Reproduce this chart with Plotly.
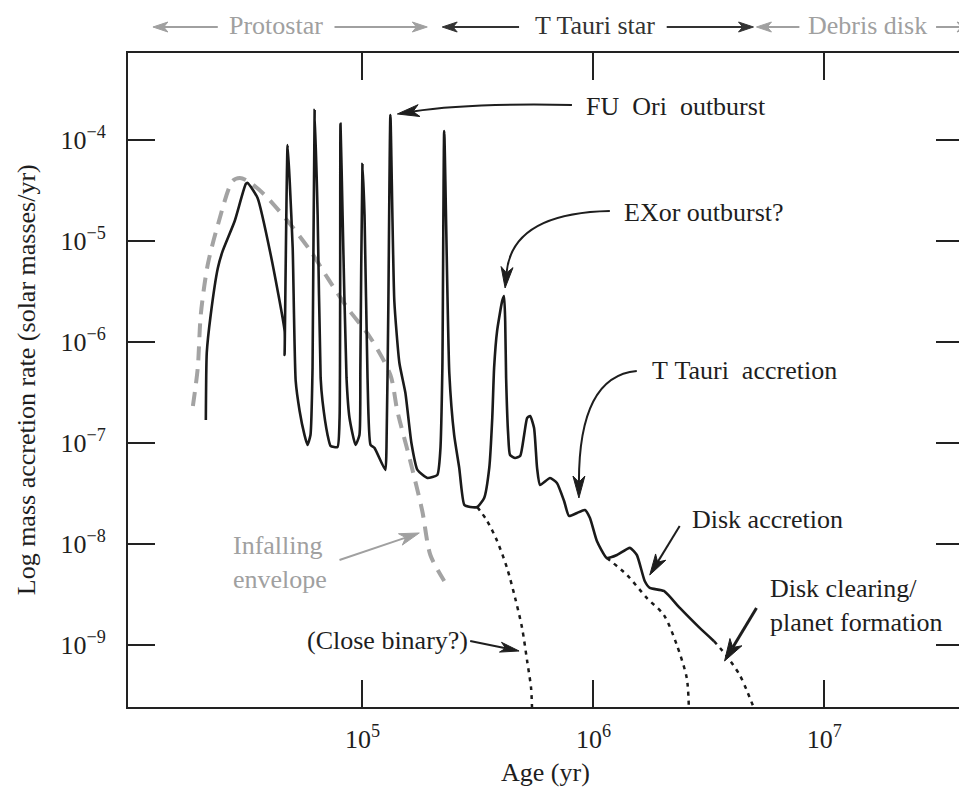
import numpy as np
import plotly.graph_objects as go

# ---------------- data (log10 values) ----------------
# main accretion history (solid black line)
main_log_age = [4.322, 4.326, 4.343, 4.374, 4.395, 4.447, 4.495, 4.503, 4.546, 4.603, 4.663, 4.663,
                4.676, 4.685, 4.698, 4.711, 4.728, 4.749, 4.762, 4.775, 4.784, 4.793, 4.806, 4.819,
                4.827, 4.849, 4.862, 4.892, 4.901, 4.905, 4.914, 4.931, 4.944, 4.970, 4.987, 4.991,
                5.000, 5.009, 5.022, 5.035, 5.052, 5.099, 5.104, 5.112, 5.121, 5.138, 5.160, 5.186,
                5.212, 5.238, 5.281, 5.324, 5.337, 5.346, 5.354, 5.376, 5.397, 5.419, 5.441, 5.467,
                5.497, 5.527, 5.549, 5.562, 5.570, 5.583, 5.605, 5.613, 5.618, 5.622, 5.631, 5.639,
                5.661, 5.683, 5.700, 5.713, 5.726, 5.743, 5.756, 5.769, 5.812, 5.842, 5.873, 5.894,
                5.929, 5.963, 5.985, 6.015, 6.058, 6.102, 6.158, 6.188, 6.222, 6.244, 6.305, 6.374,
                6.460, 6.521]
main_log_rate = [-6.773, -6.108, -5.732, -5.266, -5.097, -4.800, -4.433, -4.423, -4.572, -5.137, -5.890, -6.128,
                 -4.047, -4.403, -5.068, -6.386, -6.683, -6.921, -7.020, -6.921, -6.257, -3.700, -4.740, -6.356,
                 -6.584, -6.921, -7.030, -7.040, -6.753, -3.838, -4.740, -6.356, -6.753, -7.020, -6.921, -6.257,
                 -4.235, -4.740, -6.356, -7.020, -7.050, -7.268, -7.050, -5.662, -3.749, -5.593, -6.208, -6.505,
                 -7.001, -7.268, -7.348, -7.318, -7.080, -6.257, -3.908, -6.307, -6.921, -7.248, -7.615, -7.635,
                 -7.635, -7.546, -7.248, -6.753, -6.257, -5.890, -5.593, -5.543, -5.791, -6.356, -6.921, -7.120,
                 -7.149, -7.129, -6.921, -6.753, -6.733, -6.852, -7.248, -7.417, -7.348, -7.397, -7.576, -7.724,
                 -7.695, -7.665, -7.744, -7.972, -8.141, -8.111, -8.041, -8.111, -8.369, -8.438, -8.468, -8.636,
                 -8.834, -8.963]

# dotted branches
binary_log_age = [5.497, 5.540, 5.583, 5.626, 5.661, 5.691, 5.713, 5.730, 5.734]
binary_log_rate = [-7.635, -7.774, -7.972, -8.240, -8.537, -8.834, -9.162, -9.429, -9.618]

disk_log_age = [6.058, 6.145, 6.231, 6.305, 6.361, 6.404, 6.413]
disk_log_rate = [-8.141, -8.309, -8.537, -8.706, -9.003, -9.330, -9.618]

clearing_log_age = [6.521, 6.577, 6.633, 6.663, 6.693]
clearing_log_rate = [-8.963, -9.112, -9.300, -9.449, -9.618]

# infalling envelope (grey dashed)
envelope_log_age = [4.266, 4.287, 4.300, 4.330, 4.374, 4.438, 4.469, 4.503, 4.577, 4.676, 4.775,
                    4.849, 4.935, 5.035, 5.121, 5.151, 5.207, 5.259, 5.294, 5.354]
envelope_log_rate = [-6.634, -6.257, -5.732, -5.236, -4.840, -4.403, -4.374, -4.403, -4.542, -4.800, -5.097,
                     -5.365, -5.662, -5.960, -6.327, -6.683, -7.179, -7.675, -8.111, -8.369]

x_tick_vals = [1e5, 1e6, 1e7]
x_tick_text = ["10<sup>5</sup>", "10<sup>6</sup>", "10<sup>7</sup>"]
y_tick_vals = [1e-4, 1e-5, 1e-6, 1e-7, 1e-8, 1e-9]
y_tick_text = ["10<sup>\u22124</sup>", "10<sup>\u22125</sup>", "10<sup>\u22126</sup>",
               "10<sup>\u22127</sup>", "10<sup>\u22128</sup>", "10<sup>\u22129</sup>"]

# ---------------- figure ----------------
FONT = "Liberation Serif, Times New Roman, serif"
W, H = 967, 789
ML, MR, MT, MB = 120, 10, 45, 90
PW, PH = W - ML - MR, H - MT - MB


def pp(x, y):
    """pixel position -> paper coordinates string"""
    return f"{(x - ML) / PW:.5f},{(H - MB - y) / PH:.5f}"


def px2paper(x, y):
    return (x - ML) / PW, (H - MB - y) / PH


def arrow(tail, tip, color, width=2, ctrl=None, hl=20, hw=6):
    prev = ctrl if ctrl is not None else tail
    ux, uy = tip[0] - prev[0], tip[1] - prev[1]
    n = (ux ** 2 + uy ** 2) ** 0.5
    ux, uy = ux / n, uy / n
    qx, qy = -uy, ux
    bx, by = tip[0] - hl * ux, tip[1] - hl * uy
    nx, ny = tip[0] - 0.72 * hl * ux, tip[1] - 0.72 * hl * uy
    if ctrl is None:
        line = f"M {pp(*tail)} L {pp(nx, ny)}"
    else:
        line = f"M {pp(*tail)} Q {pp(*ctrl)} {pp(nx, ny)}"
    head = (f"M {pp(*tip)} L {pp(bx + hw * qx, by + hw * qy)} L {pp(nx, ny)} "
            f"L {pp(bx - hw * qx, by - hw * qy)} Z")
    return [
        dict(type="path", xref="paper", yref="paper", path=line,
             line=dict(color=color, width=width), layer="above"),
        dict(type="path", xref="paper", yref="paper", path=head,
             line=dict(color=color, width=1), fillcolor=color, layer="above"),
    ]


def to_lin(a):
    return [10 ** v for v in a]


fig = go.Figure()
fig.add_trace(go.Scatter(x=to_lin(envelope_log_age), y=to_lin(envelope_log_rate), mode="lines",
                         line=dict(color="#a3a3a3", width=4, dash="14px,9px", shape="spline",
                                   smoothing=0.8), hoverinfo="skip"))
for xs, ys in [(binary_log_age, binary_log_rate), (disk_log_age, disk_log_rate),
               (clearing_log_age, clearing_log_rate)]:
    fig.add_trace(go.Scatter(x=to_lin(xs), y=to_lin(ys), mode="lines",
                             line=dict(color="#1a1a1a", width=2.5, dash="4px,5px", shape="spline",
                                       smoothing=0.8), hoverinfo="skip"))
fig.add_trace(go.Scatter(x=to_lin(main_log_age), y=to_lin(main_log_rate), mode="lines",
                         line=dict(color="#1a1a1a", width=2.6, shape="spline", smoothing=0.5),
                         hoverinfo="skip"))

DARK = "#1e1e1e"
GREY = "#a0a0a0"

shapes = []
# in-plot arrows
shapes += arrow((565, 97), (390, 106), DARK, ctrl=(460, 95), hl=22, hw=6)
shapes += arrow((603, 203), (498, 280), DARK, ctrl=(505, 205), hl=21, hw=6)
shapes += arrow((630, 363), (572, 490), DARK, ctrl=(572, 368), hl=22, hw=6)
shapes += arrow((673, 518), (643, 567), DARK, hl=21, hw=6)
shapes += arrow((750, 600), (718, 653), DARK, width=3, hl=22, hw=7)
shapes += arrow((332, 552), (412, 525), GREY, hl=20, hw=6)
shapes += arrow((463, 633), (512, 643), DARK, hl=19, hw=5)
# stage arrows above the plot
TOPY = 19
shapes += arrow((210, TOPY), (145, TOPY), GREY, hl=15, hw=5)
shapes += arrow((327, TOPY), (420, TOPY), GREY, hl=15, hw=5)
shapes += arrow((512, TOPY), (435, TOPY), "#333333", hl=15, hw=5)
shapes += arrow((660, TOPY), (747, TOPY), "#333333", hl=15, hw=5)
shapes += arrow((793, TOPY), (750, TOPY), GREY, hl=15, hw=5)
shapes += arrow((930, TOPY), (966, TOPY), GREY, hl=15, hw=5)

annotations = []


def text(s, x, y, color=DARK, size=26, anchor="left"):
    ax_, ay_ = px2paper(x, y)
    annotations.append(dict(text=s, x=ax_, y=ay_, xref="paper", yref="paper", showarrow=False,
                            xanchor=anchor, yanchor="middle", align="left",
                            font=dict(family=FONT, size=size, color=color)))


NB = "\u00a0"
text(f"FU{NB}{NB}Ori{NB}{NB}outburst", 577, 99)
text(f"EXor{NB}outburst?", 615, 204)
text(f"T{NB}Tauri{NB}{NB}accretion", 643, 362)
text("Disk accretion", 683, 511)
text("Disk clearing/<br>planet formation", 762, 597)
text("Infalling<br>envelope", 223, 554, color=GREY)
text("(Close binary?)", 297, 632)
text("Protostar", 268, 18, color=GREY, anchor="center")
text("T Tauri star", 588, 18, color="#333333", anchor="center")
text("Debris disk", 861, 18, color=GREY, anchor="center")
text("Age (yr)", 538, 764, color=DARK, anchor="center")

yx, yy = px2paper(18, 372)
annotations.append(dict(text="Log mass accretion rate (solar masses/yr)", x=yx, y=yy, xref="paper",
                        yref="paper", showarrow=False, textangle=-90, xanchor="center", yanchor="middle",
                        font=dict(family=FONT, size=26, color=DARK)))

axis_common = dict(type="log", showline=True, linecolor="#222222", linewidth=2, mirror="ticks",
                   ticks="inside", ticklen=27, tickwidth=2, tickcolor="#222222", showgrid=False,
                   zeroline=False, tickfont=dict(family=FONT, size=26, color=DARK))

fig.update_layout(
    width=W, height=H,
    margin=dict(l=ML, r=MR, t=MT, b=MB),
    paper_bgcolor="white", plot_bgcolor="white",
    showlegend=False,
    xaxis=dict(range=[3.985, 7.600], tickvals=x_tick_vals, ticktext=x_tick_text,
               ticklabelstandoff=8, **axis_common),
    yaxis=dict(range=[-9.618, -3.135], tickvals=y_tick_vals, ticktext=y_tick_text,
               ticklabelstandoff=15, **axis_common),
    shapes=shapes,
    annotations=annotations,
)

fig.write_html("out.html")
